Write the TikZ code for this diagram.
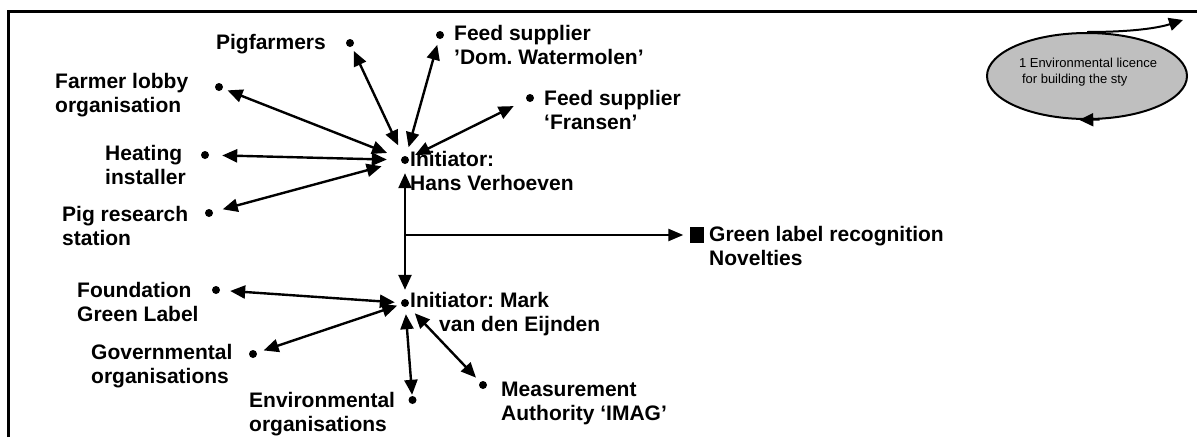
\documentclass[tikz,border=0pt]{standalone}
\usepackage{fontspec}
\setmainfont{Liberation Sans}
\usetikzlibrary{arrows.meta,shapes.geometric}
\frenchspacing
\begin{document}
\begin{tikzpicture}[x=1pt,y=-1pt,
  lbl/.style={font=\fontsize{21}{24}\selectfont\bfseries, align=left, inner sep=0pt},
  small/.style={font=\fontsize{13}{16}\selectfont, align=left, inner sep=0pt},
  dot/.style={circle, fill=black, inner sep=0pt, minimum size=8pt},
  link/.style={line width=2.4pt, {Triangle[length=15pt,width=13pt]}-{Triangle[length=15pt,width=13pt]}},
  oneway/.style={line width=2.4pt, -{Triangle[length=15pt,width=12pt]}},
  loop/.style={line width=2pt, -{Triangle[length=14pt,width=13pt]}}
]
\useasboundingbox (0,0) rectangle (1197,437);

% frame
\draw[line width=3pt] (8.5,437) -- (8.5,11.5) -- (1197,11.5);

% hubs
\node[dot] (hans) at (405,160) {};
\node[dot] (mark) at (405,303) {};
\node[lbl, anchor=west] (hanstxt) at (410,171) {Initiator:\\Hans Verhoeven};
\node[lbl, anchor=west] (marktxt) at (410,314) {Initiator: Mark\\\hspace*{29pt}van den Eijnden};

% actors around the first initiator
\node[dot] (pigf) at (350,43) {};
\node[lbl, anchor=east] (pigftxt) at (326,44) {Pigfarmers};

\node[dot] (dom) at (440,35) {};
\node[lbl, anchor=west] (domtxt) at (454,45) {Feed supplier\\’Dom. Watermolen’};

\node[dot] (lobby) at (219,87) {};
\node[lbl, anchor=west] (lobbytxt) at (55,95) {Farmer lobby\\organisation};

\node[dot] (fransen) at (530,98) {};
\node[lbl, anchor=west] (fransentxt) at (544,110) {Feed supplier\\‘Fransen’};

\node[dot] (heat) at (205,155) {};
\node[lbl, anchor=west] (heattxt) at (105,165) {Heating\\installer};

\node[dot] (research) at (209,213) {};
\node[lbl, anchor=west] (researchtxt) at (62,226) {Pig research\\station};

% actors around the second initiator
\node[dot] (found) at (216,290) {};
\node[lbl, anchor=west] (foundtxt) at (77,302) {Foundation\\Green Label};

\node[dot] (gov) at (253,354) {};
\node[lbl, anchor=west] (govtxt) at (91,366) {Governmental\\organisations};

\node[dot] (env) at (412.5,400) {};
\node[lbl, anchor=west] (envtxt) at (249,414) {Environmental\\organisations};

\node[dot] (imag) at (483,385) {};
\node[lbl, anchor=west] (imagtxt) at (501,403) {Measurement\\Authority ‘IMAG’};

% outcome
\node[fill=black, inner sep=0pt, minimum width=14pt, minimum height=16pt] (novel) at (696.5,235) {};
\node[lbl, anchor=west] (noveltxt) at (709,246) {Green label recognition\\Novelties};

% links to the first initiator
\draw[link, shorten <=5pt, shorten >=15pt] (lobby) -- (hans);
\draw[link, shorten <=4.5pt, shorten >=12pt] (pigf) -- (hans);
\draw[link, shorten <=6pt, shorten >=9pt] (dom) -- (hans);
\draw[link, shorten <=14pt, shorten >=7pt] (fransen) -- (hans);
\draw[link, shorten <=13pt, shorten >=14pt] (heat) -- (hans);
\draw[link, shorten <=10pt, shorten >=20pt] (research) -- (hans);

% link between the initiators and the outcome
\draw[link, shorten <=9pt, shorten >=9pt] (hans) -- (mark);
\draw[oneway, shorten >=6pt] (hans |- novel) -- (novel);

% links to the second initiator
\draw[link, shorten <=10pt, shorten >=6pt] (found) -- (mark);
\draw[link, shorten <=7pt, shorten >=4pt] (gov) -- (mark);
\draw[link, shorten <=1pt, shorten >=7pt] (env) -- (mark);
\draw[link, shorten <=6pt, shorten >=10pt] (imag) -- (mark);

% licence cycle
\node[ellipse, draw, line width=2pt, fill=gray!50, minimum width=200pt, minimum height=86pt] (licence) at (1087,76) {};
\node[small, anchor=center] (licencetxt) at (1088,72) {1 Environmental licence\\\hspace*{3pt}for building the sty};
\coordinate (out) at (1183,20);
\draw[loop] (licence.north) .. controls +(45,0) and +(-25,8) .. (out);
\draw[loop] (licence.-74) -- (licence.-100);
\end{tikzpicture}
\end{document}
